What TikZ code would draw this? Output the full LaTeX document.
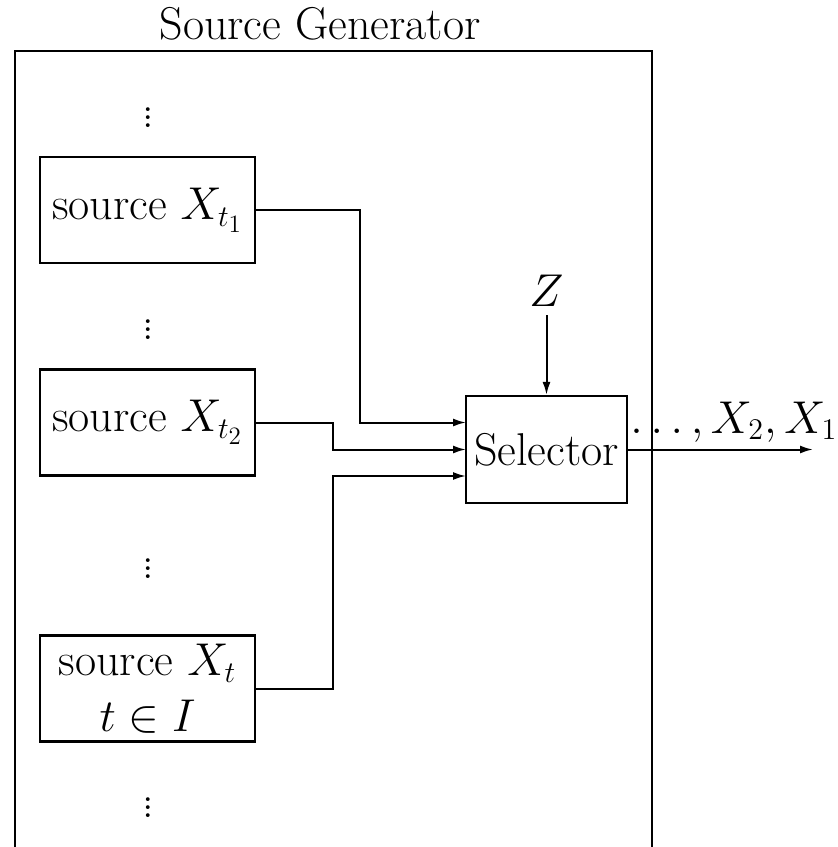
\documentclass[tikz,border=0pt]{standalone}
\usepackage{fix-cm}
\usetikzlibrary{arrows.meta}
\DeclareMathSizes{23}{23}{15}{12.5}
\begin{document}
\begin{tikzpicture}[x=0.5pt,y=-0.5pt,
  every node/.style={font=\fontsize{23}{28}\selectfont},
  srcbox/.style={draw,line width=1.1pt,minimum width=107.5pt,minimum height=53pt,inner sep=0pt,align=center},
  selbox/.style={draw,line width=1.1pt,minimum width=80.5pt,minimum height=53.5pt,inner sep=0pt},
  frame/.style={line width=1.1pt},
  conn/.style={line width=1pt},
  arr/.style={conn,-{Latex[length=6.5pt,width=4pt]}},
  vdots/.style={inner sep=0pt}]
\useasboundingbox (0,0) rectangle (837,847);
% outer frame
\draw[frame] (15,847) -- (15,51) -- (652,51) -- (652,847);
\node[anchor=base] (title) at (320,39) {Source Generator};
% vertical dots
\node[vdots] (d1) at (148,112) {$\vdots$};
\node[vdots] (d2) at (148,324) {$\vdots$};
\node[vdots] (d3) at (148,563) {$\vdots$};
\node[vdots] (d4) at (148,802) {$\vdots$};
% sources
\node[srcbox] (b1) at (147.5,210) {source $X_{t_1}$};
\node[srcbox] (b2) at (147.5,422.5) {source $X_{t_2}$};
\node[srcbox] (b3) at (147.5,688.5) {source $X_t$\\$t\in I$};
% selector
\node[selbox] (sel) at (546.5,449.5) {Selector};
\node[inner sep=4pt] (z) at (546.5,291) {$Z$};
% junction coordinates
\coordinate (j1) at (360,0);
\coordinate (j2) at (333,0);
\coordinate (in1) at (466,422.5);
\coordinate (in2) at (466,449.5);
\coordinate (in3) at (466,476);
\coordinate (out) at (813,449.5);
% connectors
\draw[arr] (b1.east) -| (j1 |- in1) -- (in1);
\draw[arr] (b2.east) -| (j2 |- in2) -- (in2);
\draw[arr] (b3.east) -| (j2 |- in3) -- (in3);
\draw[arr] (z.south) -- (sel.north);
\draw[arr] (sel.east) -- (out);
\node[anchor=base west,inner sep=0pt] (lab) at (630,433) {$\ldots,X_2,X_1$};
\end{tikzpicture}
\end{document}
